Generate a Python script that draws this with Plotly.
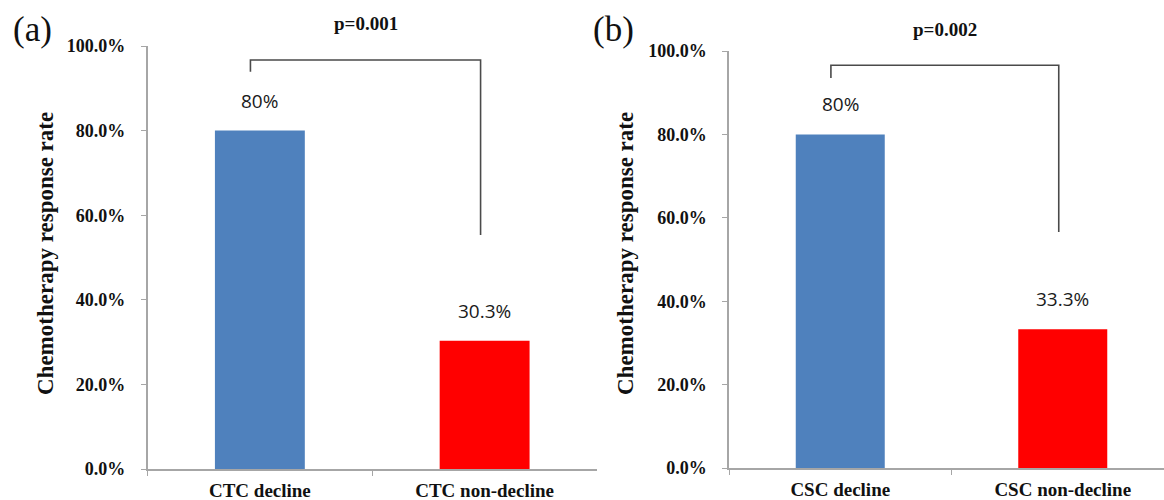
import plotly.graph_objects as go

# ---- data -------------------------------------------------------------
ctc_categories = ["CTC decline", "CTC non-decline"]
ctc_rates = [80, 30.3]
ctc_p_text = "p=0.001"

csc_categories = ["CSC decline", "CSC non-decline"]
csc_rates = [80, 33.3]
csc_p_text = "p=0.002"

y_ticks = [0, 20, 40, 60, 80, 100]
y_tick_text = ["0.0%", "20.0%", "40.0%", "60.0%", "80.0%", "100.0%"]
bar_colors = ["#4f81bd", "#ff0000"]

# ---- page geometry (pixels) -------------------------------------------
W, H = 1164, 500


def px(x):
    return x / W


def py(y):
    return 1 - y / H


SERIF = "Liberation Serif"
SANS = "Open Sans"
AXIS_GREY = "#a6a6a6"
BRACKET = "#4a4a4a"

fig = go.Figure()

fig.add_trace(go.Bar(x=ctc_categories, y=ctc_rates, marker_color=bar_colors,
                     marker_line_width=0, width=0.4, xaxis="x", yaxis="y",
                     showlegend=False, hoverinfo="skip"))
fig.add_trace(go.Bar(x=csc_categories, y=csc_rates, marker_color=bar_colors,
                     marker_line_width=0, width=0.4, xaxis="x2", yaxis="y2",
                     showlegend=False, hoverinfo="skip"))

xaxis_common = dict(
    type="category", showgrid=False, zeroline=False, automargin=False,
    showline=True, linecolor=AXIS_GREY, linewidth=1.5,
    ticks="outside", tickson="boundaries", ticklen=5, tickcolor=AXIS_GREY,
    tickwidth=1, ticklabelstandoff=3,
    tickfont=dict(family=SERIF, size=19, color="#111111", weight="bold"),
    fixedrange=True,
)
yaxis_common = dict(
    range=[0, 100], showgrid=False, zeroline=False, automargin=False,
    showline=True, linecolor=AXIS_GREY, linewidth=1.5,
    ticks="outside", ticklen=5, tickcolor=AXIS_GREY, tickwidth=1,
    tickvals=y_ticks, ticktext=y_tick_text, ticklabelstandoff=12,
    tickfont=dict(family=SERIF, size=18, color="#111111", weight="bold"),
    fixedrange=True,
)

fig.update_layout(
    width=W, height=H,
    margin=dict(l=0, r=0, t=0, b=0, autoexpand=False),
    paper_bgcolor="white", plot_bgcolor="white",
    xaxis=dict(xaxis_common, domain=[px(147.5), px(597)], range=[-0.5, 1.5], anchor="y"),
    yaxis=dict(yaxis_common, domain=[py(469), py(46)], anchor="x"),
    xaxis2=dict(xaxis_common, domain=[px(729), 1.0], range=[-0.5, 1.455], anchor="y2"),
    yaxis2=dict(yaxis_common, domain=[py(468), py(51)], anchor="x2"),
    bargap=0.6,
)

annotations = []
shapes = []

panels = [
    ("x", "y", ctc_categories, ctc_rates, ctc_p_text, "(a)", 32, 45,
     (96.7, 93.9, 55.3)),
    ("x2", "y2", csc_categories, csc_rates, csc_p_text, "(b)", 613, 625,
     (96.6, 93.5, 56.6)),
]

for xr, yr, cats, rates, p_text, tag, tag_x, title_x, (top, left_low, right_low) in panels:
    # value labels above each bar
    for i, v in enumerate(rates):
        annotations.append(dict(
            x=i, y=v, xref=xr, yref=yr, text=f"{v:g}%", showarrow=False,
            yanchor="middle", yshift=30,
            font=dict(family=SANS, size=19, color="#1a1a1a")))

    # significance bracket between the two bars
    x_left, x_right = 0 - 0.042, 1 - 0.018
    shapes.append(dict(type="path", xref=xr, yref=yr,
                       path=f"M {x_left} {left_low} L {x_left} {top} "
                            f"L {x_right} {top} L {x_right} {right_low}",
                       line=dict(color=BRACKET, width=1.6)))
    annotations.append(dict(
        x=(x_left + x_right) / 2, y=top, xref=xr, yref=yr, text=f"<b>{p_text}</b>",
        showarrow=False, yanchor="middle", yshift=36,
        font=dict(family=SERIF, size=19, color="#111111")))

    # panel tag
    annotations.append(dict(
        x=px(tag_x), y=py(29), xref="paper", yref="paper", text=tag,
        showarrow=False, xanchor="center", yanchor="middle",
        font=dict(family=SERIF, size=35, color="#111111")))

    # y-axis title
    annotations.append(dict(
        x=px(title_x), y=py(254), xref="paper", yref="paper",
        text="<b>Chemotherapy response rate</b>", textangle=-90,
        showarrow=False, xanchor="center", yanchor="middle",
        font=dict(family=SERIF, size=23, color="#111111")))

fig.update_layout(annotations=annotations, shapes=shapes)

fig.write_html("out.html")
